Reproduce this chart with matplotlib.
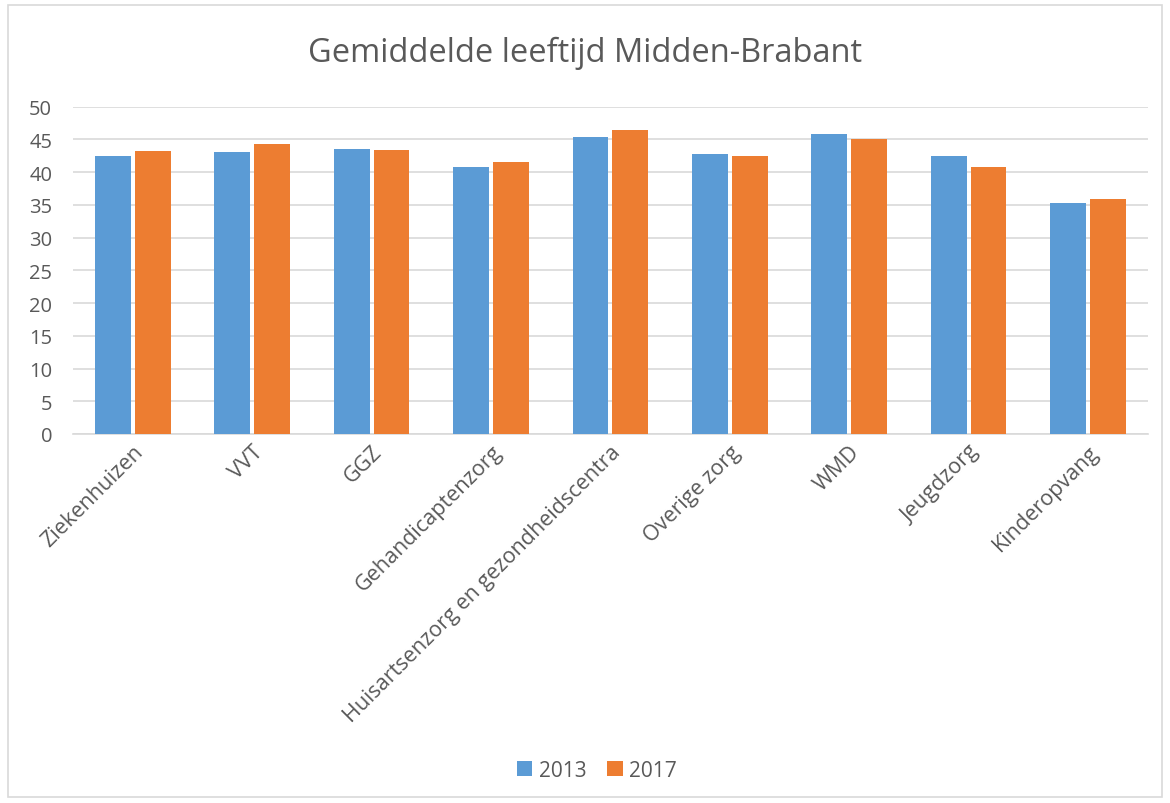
import numpy as np
import matplotlib.pyplot as plt
from matplotlib.patches import Rectangle

categories = ['Ziekenhuizen', 'VVT', 'GGZ', 'Gehandicaptenzorg',
              'Huisartsenzorg en gezondheidscentra', 'Overige zorg', 'WMD',
              'Jeugdzorg', 'Kinderopvang']
vals_2013 = [42.5, 43.1, 43.5, 40.8, 45.3, 42.8, 45.8, 42.4, 35.3]
vals_2017 = [43.2, 44.3, 43.4, 41.6, 46.4, 42.4, 45.1, 40.8, 35.9]
yticks = [0, 5, 10, 15, 20, 25, 30, 35, 40, 45, 50]

plt.rcParams['font.family'] = ['Open Sans', 'DejaVu Sans']
txt = '#595959'

fig = plt.figure(figsize=(11.7, 8.04), dpi=100)
fig.patches.append(Rectangle((0.007, 0.007), 0.986, 0.986, transform=fig.transFigure,
                             fill=False, edgecolor='#d9d9d9', linewidth=1.2))
ax = fig.add_axes([0.0624, 0.459, 0.9186, 0.407])

x = np.arange(len(categories))
w = 0.3
ax.bar(x - 0.167, vals_2013, w, color='#5b9bd5', label='2013', zorder=3)
ax.bar(x + 0.167, vals_2017, w, color='#ed7d31', label='2017', zorder=3)

ax.set_xlim(-0.5, len(categories) - 0.5)
ax.set_ylim(0, 50)
ax.set_yticks(yticks)
ax.yaxis.grid(True, color='#d9d9d9', linewidth=1.2, zorder=0)
for s in ['top', 'right', 'left']:
    ax.spines[s].set_visible(False)
ax.spines['bottom'].set_color('#d9d9d9')
ax.spines['bottom'].set_linewidth(1.2)
ax.tick_params(axis='both', length=0, colors=txt)
ax.tick_params(axis='y', pad=15, labelsize=14.5)
ax.tick_params(axis='x', labelsize=15.5, pad=5)
ax.set_xticks(x)
ax.set_xticklabels(categories, rotation=45, ha='right', rotation_mode='anchor')

fig.text(0.5, 0.934, 'Gemiddelde leeftijd Midden-Brabant', ha='center', va='center',
         fontsize=23.5, color=txt)
fig.legend(loc='center', bbox_to_anchor=(0.51, 0.041), ncol=2, frameon=False,
           fontsize=15, labelcolor=txt, handlelength=0.75, handleheight=0.75,
           handletextpad=0.3, columnspacing=1.0)

fig.savefig('out.png', dpi=100)
